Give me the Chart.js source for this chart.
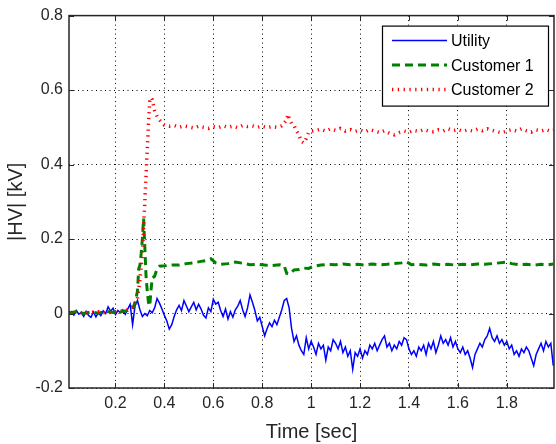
<!DOCTYPE html>
<html>
<head>
<meta charset="utf-8">
<script src="https://cdn.jsdelivr.net/npm/chart.js@4/dist/chart.umd.min.js"></script>
<style>
  html, body { margin: 0; padding: 0; background: #fff; }
  #wrap { width: 556px; height: 444px; }
</style>
</head>
<body>
<div id="wrap"><canvas id="chart" width="556" height="444"></canvas></div>
<script>
// axis ticks
const xTicks = [0.2, 0.4, 0.6, 0.8, 1.0, 1.2, 1.4, 1.6, 1.8]
const yTicks = [-0.2, 0, 0.2, 0.4, 0.6, 0.8]

// Utility, one sample every 10 ms from 0.01 s
const utilityKv = [
  0.000, 0.005, -0.004, 0.008, -0.002, 0.003, -0.008, 0.006, -0.005, -0.010,
  0.004, -0.009, 0.002, -0.006, 0.007, 0.000, 0.018, 0.006, 0.014, -0.003,
  0.008, 0.002, 0.010, -0.002, 0.012, 0.025, -0.030, 0.020, 0.035, 0.010,
  -0.008, 0.000, -0.006, 0.008, 0.002, 0.015, 0.040, 0.028, 0.012, -0.005,
  -0.020, -0.042, -0.030, -0.008, 0.010, 0.022, 0.008, 0.035, 0.020, 0.005,
  0.018, 0.030, 0.010, 0.025, 0.012, -0.005, -0.012, 0.015, 0.005, 0.038,
  0.025, 0.030, 0.008, -0.008, 0.012, -0.015, 0.005, -0.010, 0.010, 0.020,
  0.035, 0.010, -0.008, 0.015, 0.050, 0.030, 0.008, -0.020, -0.010, -0.035,
  -0.060, -0.040, -0.025, -0.035, -0.018, -0.030, -0.010, 0.010, 0.035, 0.040,
  0.015, -0.040, -0.075, -0.060, -0.085, -0.100, -0.110, -0.065, -0.095, -0.075,
  -0.090, -0.110, -0.080, -0.095, -0.085, -0.125, -0.090, -0.100, -0.070, -0.080,
  -0.095, -0.075, -0.105, -0.090, -0.115, -0.100, -0.150, -0.105, -0.115, -0.095,
  -0.120, -0.100, -0.110, -0.085, -0.095, -0.080, -0.100, -0.085, -0.070, -0.060,
  -0.090, -0.080, -0.100, -0.085, -0.095, -0.075, -0.085, -0.065, -0.070, -0.095,
  -0.110, -0.100, -0.115, -0.090, -0.100, -0.085, -0.110, -0.080, -0.095, -0.075,
  -0.105, -0.085, -0.060, -0.080, -0.070, -0.085, -0.065, -0.090, -0.075, -0.095,
  -0.105, -0.090, -0.110, -0.100, -0.120, -0.145, -0.110, -0.095, -0.080, -0.090,
  -0.070, -0.060, -0.040, -0.065, -0.075, -0.060, -0.080, -0.070, -0.085, -0.075,
  -0.095, -0.085, -0.110, -0.100, -0.115, -0.095, -0.105, -0.090, -0.100, -0.120,
  -0.140, -0.110, -0.095, -0.080, -0.100, -0.075, -0.090, -0.080, -0.140
]
const utilityTime = utilityKv.map((_, i) => (i + 1) / 100)

// Customer 1
const cust1Time = [
  0.01, 0.04, 0.07, 0.10, 0.13, 0.16, 0.19, 0.22, 0.25, 0.27, 0.28, 0.29, 0.295, 0.30,
  0.305, 0.31, 0.315, 0.32, 0.325, 0.33, 0.335, 0.34, 0.345, 0.35, 0.36, 0.37, 0.38,
  0.40, 0.43, 0.46, 0.49, 0.52, 0.55, 0.57, 0.59, 0.61, 0.63, 0.66, 0.69, 0.72, 0.75,
  0.78, 0.81, 0.84, 0.87, 0.89, 0.90, 0.91, 0.93, 0.95, 0.97, 0.99, 1.01, 1.04, 1.07,
  1.10, 1.13, 1.16, 1.19, 1.22, 1.25, 1.28, 1.31, 1.34, 1.37, 1.39, 1.41, 1.44, 1.47,
  1.50, 1.53, 1.56, 1.59, 1.62, 1.65, 1.68, 1.71, 1.74, 1.77, 1.80, 1.82, 1.85, 1.88,
  1.91, 1.94, 1.97, 1.99
]
const cust1Kv = [
  0.002, 0.005, 0.000, 0.004, 0.001, 0.006, 0.003, 0.004, 0.008, 0.012, 0.030, 0.060, 0.120, 0.130,
  0.160, 0.200, 0.255, 0.180, 0.100, 0.060, 0.030, 0.020, 0.060, 0.095, 0.100, 0.120, 0.127,
  0.128, 0.130, 0.130, 0.134, 0.136, 0.140, 0.142, 0.147, 0.136, 0.132, 0.134, 0.138, 0.135, 0.131,
  0.132, 0.130, 0.129, 0.131, 0.128, 0.108, 0.106, 0.117, 0.118, 0.122, 0.121, 0.127, 0.130, 0.132,
  0.131, 0.133, 0.131, 0.132, 0.130, 0.133, 0.131, 0.132, 0.134, 0.136, 0.139, 0.131, 0.132, 0.130,
  0.133, 0.131, 0.132, 0.130, 0.132, 0.131, 0.133, 0.132, 0.134, 0.136, 0.138, 0.134, 0.131, 0.132,
  0.130, 0.132, 0.131, 0.133
]

// Customer 2
const cust2Time = [
  0.01, 0.04, 0.07, 0.10, 0.13, 0.16, 0.19, 0.22, 0.25, 0.27, 0.28, 0.29, 0.30, 0.31,
  0.315, 0.32, 0.325, 0.33, 0.335, 0.34, 0.345, 0.35, 0.355, 0.36, 0.37, 0.38, 0.39,
  0.40, 0.42, 0.44, 0.46, 0.48, 0.50, 0.52, 0.54, 0.56, 0.58, 0.60, 0.62, 0.64, 0.66,
  0.68, 0.70, 0.72, 0.74, 0.76, 0.78, 0.80, 0.82, 0.84, 0.86, 0.88, 0.89, 0.90, 0.905,
  0.91, 0.92, 0.93, 0.94, 0.95, 0.96, 0.97, 0.98, 0.99, 1.00, 1.02, 1.04, 1.06, 1.08,
  1.10, 1.12, 1.14, 1.16, 1.18, 1.20, 1.22, 1.24, 1.26, 1.28, 1.30, 1.32, 1.34, 1.36,
  1.38, 1.40, 1.42, 1.44, 1.46, 1.48, 1.50, 1.52, 1.54, 1.56, 1.58, 1.60, 1.62, 1.64,
  1.66, 1.68, 1.70, 1.72, 1.74, 1.76, 1.78, 1.80, 1.82, 1.84, 1.86, 1.88, 1.90, 1.92,
  1.94, 1.96, 1.98, 1.99
]
const cust2Kv = [
  0.002, 0.004, 0.001, 0.003, 0.005, 0.002, 0.004, 0.006, 0.010, 0.018, 0.020, 0.040, 0.090, 0.160,
  0.230, 0.300, 0.370, 0.440, 0.510, 0.570, 0.580, 0.575, 0.560, 0.545, 0.530, 0.520, 0.512,
  0.506, 0.503, 0.505, 0.500, 0.504, 0.501, 0.498, 0.503, 0.500, 0.497, 0.502, 0.499, 0.504, 0.500,
  0.503, 0.499, 0.505, 0.502, 0.504, 0.500, 0.503, 0.499, 0.502, 0.500, 0.504, 0.512, 0.520, 0.535,
  0.525, 0.510, 0.505, 0.490, 0.480, 0.462, 0.458, 0.470, 0.487, 0.490, 0.492, 0.495, 0.490, 0.496,
  0.492, 0.497, 0.490, 0.494, 0.489, 0.493, 0.488, 0.494, 0.490, 0.486, 0.491, 0.484, 0.480, 0.486,
  0.490, 0.487, 0.492, 0.489, 0.494, 0.490, 0.488, 0.493, 0.490, 0.496, 0.491, 0.494, 0.489, 0.493,
  0.490, 0.495, 0.491, 0.496, 0.492, 0.488, 0.485, 0.490, 0.494, 0.490, 0.496, 0.491, 0.487, 0.493,
  0.490, 0.494, 0.489, 0.492
]

const seriesNames = ['Utility', 'Customer 1', 'Customer 2']

function toPoints(t, v) {
    return t.map((x, i) => ({ x: x, y: v[i] }))
}

const textColor = '#262626'
const fontFamily = '"Liberation Sans", Arial, Helvetica, sans-serif'

// box, inward ticks and the boxed legend, MATLAB style
const framePlugin = {
    id: 'frame',
    afterDatasetsDraw(chart) {
        const { ctx, chartArea: a, scales } = chart
        const sx = scales.x, sy = scales.y
        ctx.save()
        ctx.strokeStyle = textColor
        ctx.lineWidth = 1
        ctx.setLineDash([])
        ctx.beginPath()
        xTicks.forEach(v => {
            const px = Math.round(sx.getPixelForValue(v)) + 0.5
            ctx.moveTo(px, a.bottom); ctx.lineTo(px, a.bottom - 5)
            ctx.moveTo(px, a.top); ctx.lineTo(px, a.top + 5)
        })
        yTicks.forEach(v => {
            const py = Math.round(sy.getPixelForValue(v)) + 0.5
            ctx.moveTo(a.left, py); ctx.lineTo(a.left + 5, py)
            ctx.moveTo(a.right, py); ctx.lineTo(a.right - 5, py)
        })
        ctx.stroke()
        ctx.lineWidth = 1.5
        ctx.strokeRect(a.left, a.top, a.right - a.left, a.bottom - a.top)

        // legend
        const bw = 166, bh = 80
        const bx = a.right - 6 - bw, by = a.top + 10
        ctx.fillStyle = '#fff'
        ctx.fillRect(bx, by, bw, bh)
        ctx.strokeStyle = '#000'
        ctx.lineWidth = 1.2
        ctx.strokeRect(bx + 0.5, by + 0.5, bw, bh)
        ctx.font = '16px ' + fontFamily
        ctx.textBaseline = 'middle'
        ctx.textAlign = 'left'
        chart.data.datasets.forEach((ds, i) => {
            const ly = by + 15 + i * 24.5
            ctx.strokeStyle = ds.borderColor
            ctx.lineWidth = ds.borderWidth
            ctx.setLineDash(ds.borderDash || [])
            ctx.beginPath()
            ctx.moveTo(bx + 10, ly)
            ctx.lineTo(bx + 65, ly)
            ctx.stroke()
            ctx.fillStyle = '#000'
            ctx.fillText(ds.label, bx + 69, ly + 1)
        })
        ctx.restore()
    }
}

const fmt = v => String(Number(Number(v).toFixed(1)))

new Chart(document.getElementById('chart'), {
    type: 'line',
    data: {
        datasets: [
            {
                label: seriesNames[0],
                data: toPoints(utilityTime, utilityKv),
                borderColor: '#0000ff',
                borderWidth: 1.5,
                order: 3
            },
            {
                label: seriesNames[1],
                data: toPoints(cust1Time, cust1Kv),
                borderColor: '#008000',
                borderWidth: 3,
                borderDash: [8, 5],
                order: 2
            },
            {
                label: seriesNames[2],
                data: toPoints(cust2Time, cust2Kv),
                borderColor: '#ff0000',
                borderWidth: 3.5,
                borderDash: [1.3, 4.5],
                order: 1
            }
        ]
    },
    options: {
        responsive: false,
        animation: false,
        events: [],
        layout: { padding: { top: 15, right: 2, left: 0, bottom: 0 } },
        elements: {
            point: { radius: 0 },
            line: { tension: 0, fill: false, borderCapStyle: 'butt' }
        },
        plugins: {
            legend: { display: false },
            tooltip: { enabled: false }
        },
        scales: {
            x: {
                type: 'linear',
                min: 0.01,
                max: 1.993,
                afterFit: s => { s.height = 56 },
                afterBuildTicks: s => { s.ticks = xTicks.map(v => ({ value: v })) },
                grid: { color: '#000', lineWidth: 1, drawTicks: false },
                border: { display: false, dash: [1, 3.5] },
                ticks: {
                    autoSkip: false, maxRotation: 0, padding: 6,
                    color: textColor, font: { family: fontFamily, size: 16 },
                    callback: fmt
                },
                title: {
                    display: true, text: 'Time [sec]', color: textColor,
                    font: { family: fontFamily, size: 20 },
                    padding: { top: 4, bottom: 0 }
                }
            },
            y: {
                type: 'linear',
                min: -0.2,
                max: 0.8,
                afterFit: s => { s.width = 69 },
                afterBuildTicks: s => { s.ticks = yTicks.map(v => ({ value: v })) },
                grid: { color: '#000', lineWidth: 1, drawTicks: false },
                border: { display: false, dash: [1, 3.5] },
                ticks: {
                    autoSkip: false, padding: 6,
                    color: textColor, font: { family: fontFamily, size: 16 },
                    callback: fmt
                },
                title: {
                    display: true, text: '|HV| [kV]', color: textColor,
                    font: { family: fontFamily, size: 20 },
                    padding: { top: 4, bottom: 0 }
                }
            }
        }
    },
    plugins: [framePlugin]
})
</script>
</body>
</html>
